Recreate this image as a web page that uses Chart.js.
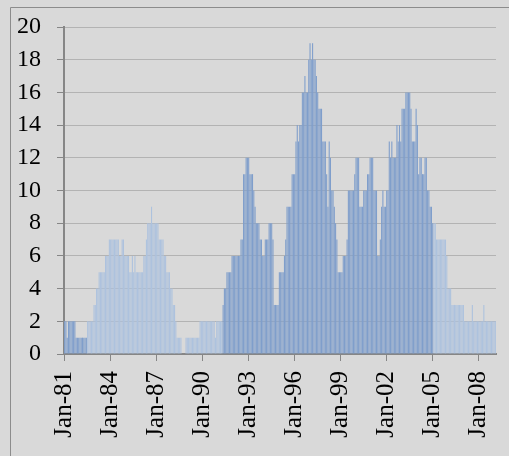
<!DOCTYPE html>
<html>
<head>
<meta charset="utf-8">
<script src="https://cdn.jsdelivr.net/npm/chart.js@4.4.0/dist/chart.umd.min.js"></script>
<style>
  html, body { margin: 0; padding: 0; background: #d9d9d9; }
</style>
</head>
<body>
<canvas id="chart" width="509" height="456"></canvas>
<script>
// Monthly counts, Jan 1981 onwards (one row per year)
const counts1980s = [
  2, 2, 1, 2, 2, 2, 2, 2, 2, 1, 1, 1,   // 1981
  1, 1, 1, 1, 1, 1, 2, 2, 2, 2, 2, 3,   // 1982
  3, 4, 4, 5, 5, 5, 5, 5, 6, 6, 6, 7,   // 1983
  7, 7, 7, 7, 7, 7, 7, 6, 6, 7, 7, 6,   // 1984
  6, 6, 6, 5, 5, 6, 5, 6, 5, 5, 5, 5,   // 1985
  5, 5, 6, 6, 7, 8, 8, 8, 9, 8, 8, 8,   // 1986
  8, 8, 7, 7, 7, 7, 6, 6, 5, 5, 5, 4,   // 1987
  4, 3, 3, 2, 1, 1, 1, 1, 0, 0, 0, 1,   // 1988
  1, 1, 1, 1, 1, 1, 1, 1, 1, 1, 2, 2    // 1989
];
const counts1990s = [
  2, 2, 2, 2, 2, 2, 2, 2, 2, 2, 1, 2,   // 1990
  2, 2, 2, 2, 3, 4, 4, 5, 5, 5, 5, 6,   // 1991
  6, 6, 6, 6, 6, 6, 7, 7, 11, 11, 12, 12, // 1992
  12, 11, 11, 11, 10, 9, 8, 8, 8, 7, 7, 6, // 1993
  6, 7, 7, 7, 8, 8, 8, 7, 3, 3, 3, 3,   // 1994
  5, 5, 5, 5, 6, 7, 9, 9, 9, 9, 11, 11, // 1995
  11, 13, 14, 13, 14, 14, 16, 16, 17, 16, 16, 18, // 1996
  19, 18, 19, 18, 18, 17, 16, 15, 15, 15, 13, 13, // 1997
  13, 11, 9, 13, 12, 10, 10, 9, 8, 7, 5, 5,       // 1998
  5, 5, 6, 6, 6, 7, 10, 10, 10, 10, 10, 11        // 1999
];
const counts2000s = [
  12, 12, 12, 9, 9, 9, 10, 10, 10, 11, 11, 12,    // 2000
  12, 12, 10, 10, 10, 6, 6, 7, 9, 10, 9, 9,       // 2001
  10, 10, 13, 12, 13, 12, 12, 12, 14, 13, 14, 13, // 2002
  15, 15, 15, 16, 16, 16, 16, 15, 13, 13, 13, 15, // 2003
  14, 11, 12, 12, 11, 11, 12, 12, 10, 10, 9, 9,   // 2004
  8, 8, 8, 7, 7, 7, 7, 7, 7, 7, 7, 6,             // 2005
  4, 4, 4, 3, 3, 3, 3, 3, 3, 3, 3, 3,             // 2006
  3, 2, 2, 2, 2, 2, 2, 3, 2, 2, 2, 2,             // 2007
  2, 2, 2, 2, 3, 2, 2, 2, 2, 2, 2, 2,             // 2008
  2, 2                                            // 2009
];

const START_YEAR = 1981;
const MONTHS = ['Jan', 'Feb', 'Mar', 'Apr', 'May', 'Jun', 'Jul', 'Aug', 'Sep', 'Oct', 'Nov', 'Dec'];

const values = [...counts1980s, ...counts1990s, ...counts2000s];
const labels = values.map((v, i) => {
  const yr = START_YEAR + Math.floor(i / 12);
  return MONTHS[i % 12] + '-' + String(yr % 100).padStart(2, '0');
});

// the bars are a darker blue in two stretches
const DARK = '#7f9ecb';
const LIGHT = '#adc2de';
function barShade(i) {
  if (i < 18) return DARK;
  if (i >= 124 && i < 289) return DARK;
  return LIGHT;
}

const AXIS = '#868686';
const FONT = 'Liberation Serif';

const frame = {
  id: 'frame',
  beforeDraw(chart) {
    const ctx = chart.ctx;
    ctx.save();
    ctx.fillStyle = '#d9d9d9';
    ctx.fillRect(0, 0, chart.width, chart.height);
    ctx.strokeStyle = '#8c8c8c';
    ctx.lineWidth = 1;
    ctx.beginPath();
    ctx.moveTo(10.5, chart.height);
    ctx.lineTo(10.5, 7.5);
    ctx.lineTo(chart.width, 7.5);
    ctx.stroke();
    ctx.restore();
  }
};

// pin the plot area: no extra room for the edge labels
function noEdgePadding(scale) {
  scale.paddingLeft = 0;
  scale.paddingRight = 0;
  scale.paddingTop = 0;
  scale.paddingBottom = 0;
}

new Chart(document.getElementById('chart'), {
  type: 'bar',
  data: {
    labels,
    datasets: [{
      data: values,
      backgroundColor: ctx => barShade(ctx.dataIndex),
      borderWidth: 0,
      barPercentage: 0.85,
      categoryPercentage: 1
    }]
  },
  plugins: [frame],
  options: {
    responsive: false,
    animation: false,
    devicePixelRatio: 1,
    layout: { padding: { top: 27, right: 13, left: 0, bottom: 0 } },
    plugins: {
      legend: { display: false },
      tooltip: { enabled: false }
    },
    scales: {
      x: {
        offset: true,
        afterFit: scale => { scale.height = 102; noEdgePadding(scale); },
        border: { color: AXIS, width: 2 },
        grid: {
          drawOnChartArea: false,
          drawTicks: true,
          tickLength: 7,
          offset: false,
          tickColor: ctx => (ctx.index % 36 === 0 ? AXIS : 'rgba(0,0,0,0)')
        },
        ticks: {
          autoSkip: false,
          maxRotation: 90,
          minRotation: 90,
          padding: 10,
          color: '#000',
          font: { family: FONT, size: 25 },
          callback: function(val, i) {
            return i % 36 === 0 ? this.getLabelForValue(val) : '';
          }
        }
      },
      y: {
        min: 0,
        max: 20,
        afterFit: scale => { scale.width = 64; noEdgePadding(scale); },
        border: { color: AXIS, width: 2 },
        grid: {
          color: '#b3b3b3',
          tickColor: AXIS,
          tickLength: 7
        },
        ticks: {
          stepSize: 2,
          padding: 16,
          color: '#000',
          font: { family: FONT, size: 24 }
        }
      }
    }
  }
});
</script>
</body>
</html>
